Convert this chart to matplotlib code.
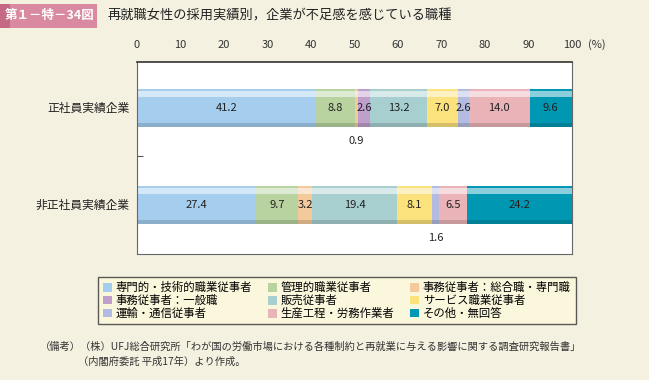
import matplotlib.pyplot as plt
from matplotlib.patches import Rectangle, Patch

plt.rcParams['font.family'] = ['Noto Sans CJK JP', 'DejaVu Sans']

# データ
categories = ['正社員実績企業', '非正社員実績企業']
series = ['専門的・技術的職業従事者', '管理的職業従事者', '事務従事者：総合職・専門職',
          '事務従事者：一般職', '販売従事者', 'サービス職業従事者',
          '運輸・通信従事者', '生産工程・労務作業者', 'その他・無回答']
values_seishain = [41.2, 8.8, 0.9, 2.6, 13.2, 7.0, 2.6, 14.0, 9.6]
values_hiseishain = [27.4, 9.7, 3.2, 0.0, 19.4, 8.1, 1.6, 6.5, 24.2]
ticks = [0, 10, 20, 30, 40, 50, 60, 70, 80, 90, 100]

colors = ['#a4cdee', '#b8d3a0', '#f4c99c', '#bf9fcb', '#a8cfd0',
          '#fbe27c', '#b3bbe0', '#eab3b8', '#0097b2']

bg = '#f4f1e0'
fig = plt.figure(figsize=(6.49, 3.80), dpi=100, facecolor=bg)

# タイトル
fig.patches.append(Rectangle((0, 1 - 28 / 380), 97 / 649, 24 / 380, transform=fig.transFigure,
                             facecolor='#d98aa0', edgecolor='none'))
fig.patches.append(Rectangle((0, 1 - 28 / 380), 10 / 649, 24 / 380, transform=fig.transFigure,
                             facecolor='#c46a84', edgecolor='none'))
fig.text(50 / 649, 1 - 16 / 380, '第１－特－34図', color='white', fontsize=9,
         fontweight='bold', ha='center', va='center')
fig.text(107 / 649, 1 - 16 / 380, '再就職女性の採用実績別，企業が不足感を感じている職種',
         fontsize=9.5, ha='left', va='center', color='#222222')

ax = fig.add_axes([137 / 649, 1 - 254 / 380, 435 / 649, 192 / 380])
ax.set_facecolor('white')
ax.set_xlim(0, 100)
ax.set_ylim(1, 0)

ypos = [0.24, 0.745]
h = 0.2
rows = [values_seishain, values_hiseishain]
for y, vals in zip(ypos, rows):
    left = 0
    for i, v in enumerate(vals):
        if v > 0:
            ax.barh(y, v, left=left, height=h, color=colors[i], edgecolor='none')
            if v >= 2:
                ax.text(left + v / 2, y, f'{v:.1f}', ha='center', va='center',
                        fontsize=8, color='#222222')
            else:
                ax.text(left + v / 2, y + h / 2 + 0.07, f'{v:.1f}', ha='center',
                        va='center', fontsize=8, color='#222222')
        left += v
    # 立体風のハイライトと影
    ax.barh(y - h / 2 + 0.025, left, height=0.03, color='white', alpha=0.55, edgecolor='none')
    ax.barh(y + h / 2 - 0.012, left, height=0.024, color='black', alpha=0.15, edgecolor='none')

ax.xaxis.tick_top()
ax.set_xticks(ticks)
ax.set_xticklabels([str(t) for t in ticks], fontsize=8, color='#333333')
ax.tick_params(axis='x', length=0, pad=9)
ax.set_yticks([0.49])
ax.set_yticklabels([''])
ax.tick_params(axis='y', direction='in', length=4, color='#555555')
fig.text(588 / 649, 1 - 45 / 380, '(%)', fontsize=8, color='#333333',
         ha='left', va='center')

for s in ['left', 'right', 'bottom']:
    ax.spines[s].set_color('#666666')
    ax.spines[s].set_linewidth(0.8)
ax.spines['top'].set_color('#333333')
ax.spines['top'].set_linewidth(1.2)

for y, c in zip(ypos, categories):
    fig.text(130 / 649, ax.transData.transform((0, y))[1] / 380, c, fontsize=8.5,
             ha='right', va='center', color='#222222')

# 凡例
order = [0, 3, 6, 1, 4, 7, 2, 5, 8]
handles = [Patch(facecolor=colors[i], edgecolor='none', label=series[i]) for i in order]
leg = fig.legend(handles=handles, ncol=3, loc='upper left',
                 bbox_to_anchor=(98 / 649, 1 - 277 / 380), fontsize=8.2,
                 frameon=True, fancybox=False, handlelength=0.8, handleheight=0.8,
                 handletextpad=0.3, columnspacing=1.4, labelspacing=0.15,
                 borderpad=0.45, borderaxespad=0)
leg.get_frame().set_facecolor('#fdf9dc')
leg.get_frame().set_edgecolor('#333333')
leg.get_frame().set_linewidth(1.0)

# 出典
fig.text(40 / 649, 1 - 347 / 380,
         '（備考）（株）UFJ総合研究所「わが国の労働市場における各種制約と再就業に与える影響に関する調査研究報告書」',
         fontsize=7.4, ha='left', va='center', color='#333333')
fig.text(78 / 649, 1 - 362 / 380, '（内閣府委託 平成17年）より作成。',
         fontsize=7.4, ha='left', va='center', color='#333333')

plt.savefig('out.png', dpi=100, facecolor=bg)
